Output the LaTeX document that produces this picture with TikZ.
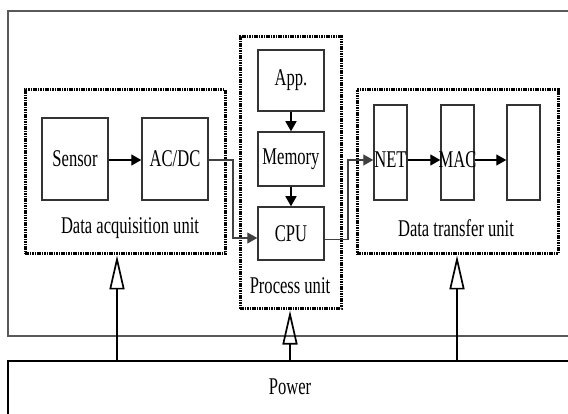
\documentclass[tikz,border=0pt]{standalone}
\usepackage{fontspec}
\setmainfont[FakeStretch=0.69]{Liberation Serif}
\usetikzlibrary{arrows.meta}
\begin{document}
\begin{tikzpicture}[x=1pt,y=-1pt,
  txt/.style={font=\fontsize{24}{28}\selectfont, inner sep=0pt},
  blk/.style={draw=black!80, line width=1.5pt, inner sep=0pt, font=\fontsize{24}{28}\selectfont},
  unitbox/.style={draw=black, line width=3pt, dash pattern=on 1.6pt off 0.8pt, inner sep=0pt},
  arr/.style={line width=1.4pt, -{Triangle[length=10pt,width=11pt]}},
  thinarr/.style={draw=black!75, line width=1.1pt, -{Triangle[length=10pt,width=11pt]}},
  parr/.style={line width=1.7pt, -{Triangle[open,length=34pt,width=15pt,line width=1.7pt]}}
]
\useasboundingbox (0,0) rectangle (568,414);
% outer frame and power box
\draw[gray!70!black, line width=2pt] (568,11) -- (8,11) -- (8,336) -- (568,336);
\draw[black, line width=1.6pt] (568,361) -- (8,361) -- (8,414);
\node[txt] (power) at (290,387) {Power};
% unit boxes
\node[unitbox, minimum width=200pt, minimum height=164pt] (daq) at (125,172) {};
\node[unitbox, minimum width=101pt, minimum height=272pt] (proc) at (290.5,173) {};
\node[unitbox, minimum width=201pt, minimum height=164pt] (trans) at (457.5,172) {};
\node[txt] (daqlbl) at (130,228) {Data acquisition unit};
\node[txt] (proclbl) at (290,286) {Process unit};
\node[txt] (translbl) at (456,228) {Data transfer unit};
% blocks
\node[blk, minimum width=66pt, minimum height=82pt] (sensor) at (75,159) {Sensor};
\node[blk, minimum width=66pt, minimum height=82pt] (acdc) at (175,159) {AC/DC};
\node[blk, minimum width=66pt, minimum height=61pt] (app) at (291,80.5) {App.};
\node[blk, minimum width=66pt, minimum height=54pt] (mem) at (291,159) {Memory};
\node[blk, minimum width=66pt, minimum height=53pt] (cpu) at (291,233.5) {CPU};
\node[blk, minimum width=33pt, minimum height=95pt] (net) at (390.5,152.5) {};
\node[txt] (nettxt) at (390.5,160) {NET};
\node[blk, minimum width=33pt, minimum height=95pt] (mac) at (457.5,152.5) {};
\node[txt] (mactxt) at (457.5,160) {MAC};
\node[blk, minimum width=33pt, minimum height=95pt] (phy) at (523.5,152.5) {};
% connectors
\draw[arr] ([yshift=-1pt]sensor.east) -- ([yshift=-1pt]acdc.west);
\draw[arr] (app.south) -- (mem.north);
\draw[arr] (mem.south) -- (cpu.north);
\draw[thinarr] ([yshift=-1pt]acdc.east) -- (233,160) |- ([yshift=-4.5pt]cpu.west);
\draw[thinarr] ([yshift=-6pt]cpu.east) -- (348,239.5) |- ([yshift=-7.5pt]net.west);
\draw[arr] ([yshift=-7.5pt]net.east) -- ([yshift=-7.5pt]mac.west);
\draw[arr] ([yshift=-7.5pt]mac.east) -- ([yshift=-7.5pt]phy.west);
% power arrows
\coordinate (p1) at (117,361);
\coordinate (p2) at (290,361);
\coordinate (p3) at (457,361);
\draw[parr] (p1) -- (p1 |- daq.south);
\draw[parr] (p2) -- (p2 |- proc.south);
\draw[parr] (p3) -- (p3 |- trans.south);
\end{tikzpicture}
\end{document}
